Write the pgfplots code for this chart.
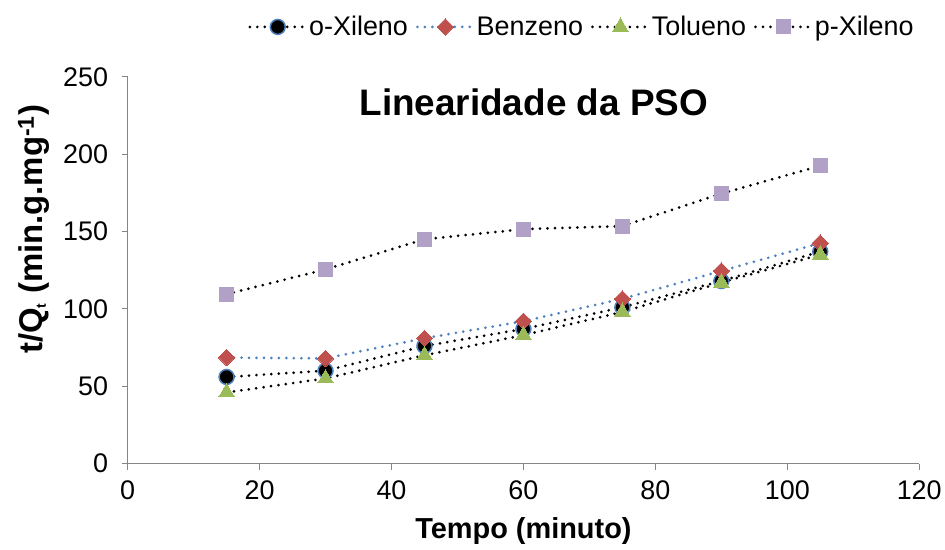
\documentclass[border=0pt]{standalone}
\usepackage{fontspec}
\setmainfont{Liberation Sans}
\usepackage{pgfplots}
\pgfplotsset{compat=1.18}
\definecolor{exblue}{HTML}{4F81BD}
\definecolor{exred}{HTML}{C0504D}
\definecolor{exgreen}{HTML}{9BBB59}
\definecolor{expurple}{HTML}{B2A1C7}
\definecolor{axgray}{HTML}{868686}
\begin{document}
\begin{tikzpicture}
\begin{axis}[
  scale only axis, width=794pt, height=388pt,
  xmin=0, xmax=120, ymin=0, ymax=250,
  xtick={0,20,...,120}, ytick={0,50,...,250},
  axis x line*=bottom, axis y line*=left,
  axis line style={axgray, line width=1pt},
  tick style={axgray, line width=1pt},
  tick align=outside, major tick length=6pt,
  /pgf/number format/assume math mode=true,
  ticklabel style={font=\fontsize{27}{32}\selectfont},
  xticklabel style={yshift=-8pt},
  yticklabel style={xshift=-10pt},
  xlabel={\textbf{Tempo (minuto)}},
  ylabel={\textbf{t/Q{\fontsize{20}{20}\selectfont\textsubscript{t}} (min.g.mg\textsuperscript{-1})}},
  xlabel style={font=\fontsize{29}{34}\selectfont, at={(rel axis cs:0.5,0)}, anchor=center, yshift=-68pt},
  ylabel style={font=\fontsize{33}{38}\selectfont, at={(rel axis cs:0,0.5)}, anchor=center, yshift=94pt, xshift=41pt},
  legend style={at={(0.574,1.0)}, yshift=50pt, anchor=center, draw=none,
    font=\fontsize{27}{32}\selectfont, legend columns=4,
    /tikz/every even column/.append style={column sep=6pt}},
  legend image code/.code={
    \draw[#1, mark repeat=2, mark phase=2] plot coordinates {(0pt,0pt) (28pt,0pt) (56pt,0pt)};
  },
  every axis plot/.append style={line width=3pt, line cap=round, dash pattern=on 0pt off 7.5pt},
]
\addplot[black, mark=*, mark size=7.5pt, mark options={solid, fill=black, draw=exblue, line width=1.5pt}]
  coordinates {(15,56) (30,60) (45,76) (60,87) (75,101) (90,118) (105,137)};
\addlegendentry{o-Xileno}
\addplot[exblue, mark=square*, mark size=5.8pt, mark options={solid, fill=exred, draw=exred, line width=0pt, rotate=45}]
  coordinates {(15,68.5) (30,68) (45,81) (60,92) (75,106.5) (90,124.5) (105,142.5)};
\addlegendentry{Benzeno}
\addplot[black, mark=triangle*, mark size=9pt, mark options={solid, fill=exgreen, draw=exgreen, line width=0pt}]
  coordinates {(15,46) (30,55) (45,70) (60,83) (75,98) (90,117) (105,135)};
\addlegendentry{Tolueno}
\addplot[black, mark=square*, mark size=7pt, mark options={solid, fill=expurple, draw=expurple, line width=0pt}]
  coordinates {(15,109.5) (30,125.5) (45,145) (60,151.5) (75,153.5) (90,174.5) (105,192.5)};
\addlegendentry{p-Xileno}
\node[font=\fontsize{37}{42}\selectfont\bfseries] at (rel axis cs:0.513,0.933) {Linearidade da PSO};
\end{axis}
\path[use as bounding box] (current axis.south west) ++(-128pt,-86pt) rectangle ++(945pt,551pt);
\end{tikzpicture}
\end{document}
